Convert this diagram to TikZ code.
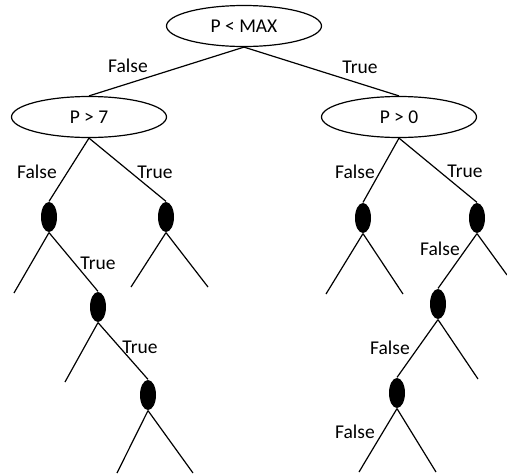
\documentclass[tikz,border=0pt]{standalone}
\usepackage{fontspec}
\setmainfont{Carlito}
\usetikzlibrary{shapes.geometric}
\begin{document}
\begin{tikzpicture}[x=1pt,y=-1pt,line width=1.2pt,
  test/.style={ellipse,draw,minimum width=155pt,minimum height=41pt,inner sep=0pt,
    font=\fontsize{19.5}{22}\selectfont},
  leafdot/.style={ellipse,fill=black,minimum width=16pt,minimum height=30pt,inner sep=0pt},
  lbl/.style={font=\fontsize{19.5}{22}\selectfont,inner sep=0pt}]
\useasboundingbox (0,0) rectangle (507,474);

% decision nodes
\node[test] (root) at (244,26) {P < MAX};
\node[test] (lt) at (89,117) {P > 7};
\node[test] (rt) at (399,117) {P > 0};

% left subtree
\node[leafdot] (a) at (49,217) {};
\node[leafdot] (b) at (166,217) {};
\node[leafdot] (c) at (98,307) {};
\node[leafdot] (d) at (148,395) {};

% right subtree
\node[leafdot] (e) at (363,218) {};
\node[leafdot] (f) at (477,218) {};
\node[leafdot] (g) at (438,304) {};
\node[leafdot] (h) at (397,393) {};

% loose branch ends
\coordinate (a1) at (14,293);
\coordinate (b1) at (131,287);
\coordinate (b2) at (208,287);
\coordinate (c1) at (65,382);
\coordinate (d1) at (117,473);
\coordinate (d2) at (193,473);
\coordinate (e1) at (326,294);
\coordinate (e2) at (403,294);
\coordinate (f2) at (507,275);
\coordinate (g2) at (478,379);
\coordinate (h1) at (359,472);
\coordinate (h2) at (436,472);

% connectors
\draw (root.south) -- (lt.north);
\draw (root.south) -- (rt.north);
\draw (lt.south) -- (a.north);
\draw (lt.south) -- (b.north);
\draw (a.south) -- (a1);
\draw (a.south) -- (c.north);
\draw (b.south) -- (b1);
\draw (b.south) -- (b2);
\draw (c.south) -- (c1);
\draw (c.south) -- (d.north);
\draw (d.south) -- (d1);
\draw (d.south) -- (d2);
\draw (rt.south) -- (e.north);
\draw (rt.south) -- (f.north);
\draw (e.south) -- (e1);
\draw (e.south) -- (e2);
\draw (f.south) -- (g.north);
\draw (f.south) -- (f2);
\draw (g.south) -- (h.north);
\draw (g.south) -- (g2);
\draw (h.south) -- (h1);
\draw (h.south) -- (h2);

% branch labels
\node[lbl] (l1) at (128,66) {False};
\node[lbl] (l2) at (360,67) {True};
\node[lbl] (l3) at (37,172) {False};
\node[lbl] (l4) at (155,172) {True};
\node[lbl] (l5) at (98,263) {True};
\node[lbl] (l6) at (140,347) {True};
\node[lbl] (l7) at (355,172) {False};
\node[lbl] (l8) at (465,171) {True};
\node[lbl] (l9) at (440,249) {False};
\node[lbl] (l10) at (390,348) {False};
\node[lbl] (l11) at (355,432) {False};
\end{tikzpicture}
\end{document}
